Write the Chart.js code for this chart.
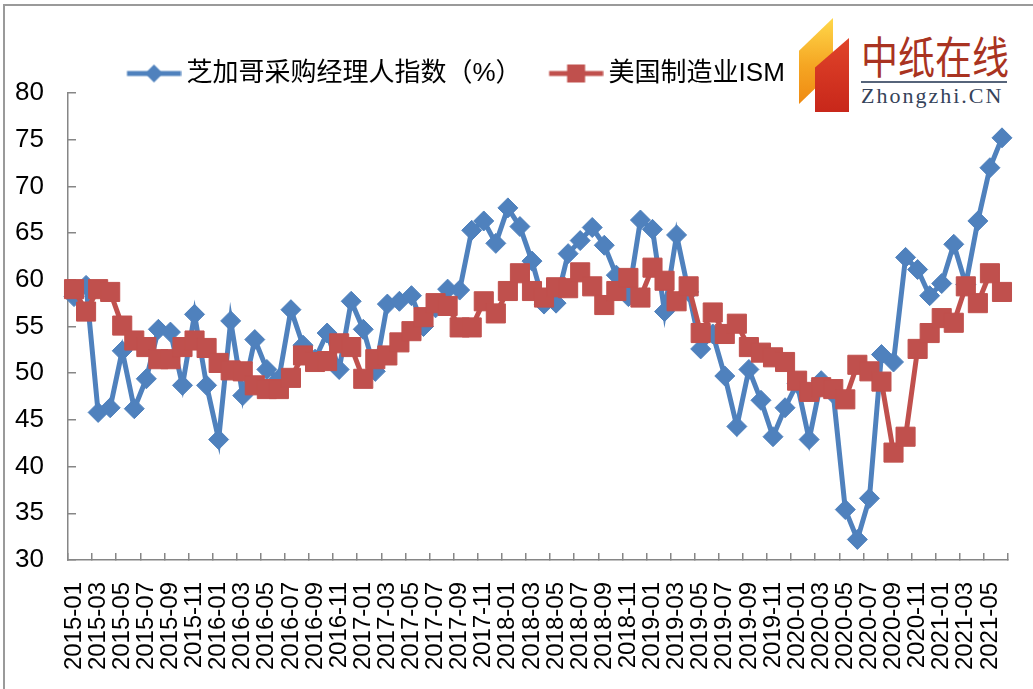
<!DOCTYPE html>
<html>
<head>
<meta charset="utf-8">
<title>芝加哥采购经理人指数与美国制造业ISM</title>
<script src="https://cdn.jsdelivr.net/npm/chart.js@4.4.1/dist/chart.umd.min.js"></script>
<style>
  html, body { margin: 0; padding: 0; background: #fff; overflow: hidden; }
  #wrap { position: relative; width: 1033px; height: 689px; overflow: hidden; }
  #frame { position: absolute; left: 3px; top: 4px; width: 1100px; height: 800px;
           border-top: 2px solid #9a9a9a; border-left: 2px solid #9a9a9a; }
  #myChart { position: absolute; left: 0; top: 0; }
  .logo { position: absolute; left: 793px; top: 12px; width: 220px; height: 100px; background: #fff; }
  .logo-orange { position: absolute; left: 6px; top: 6px; width: 34px; height: 86px;
                 background: linear-gradient(#ffd84a, #f5a623 55%, #ef8a12);
                 clip-path: polygon(0 38%, 100% 0, 100% 62%, 0 100%); }
  .logo-red { position: absolute; left: 22px; top: 26px; width: 34px; height: 74px;
              background: linear-gradient(#e0442a, #c8271a);
              clip-path: polygon(0 40%, 100% 0, 100% 100%, 0 100%); }
  .logo-cn { position: absolute; left: 68px; top: 10px; font: 37px "Noto Sans CJK SC", sans-serif;
             color: #a93321; transform: scaleY(1.2); transform-origin: top left; }
  .logo-line { position: absolute; left: 68px; top: 69px; width: 146px; height: 2px; background: #56647a; }
  .logo-en { position: absolute; left: 68px; top: 71px; font: 22px "Liberation Serif", serif;
             color: #35435a; letter-spacing: 2px; }
</style>
</head>
<body>
<div id="wrap">
  <div id="frame"></div>
  <canvas id="myChart" width="1033" height="689"></canvas>
  <div class="logo">
    <div class="logo-orange"></div>
    <div class="logo-red"></div>
    <div class="logo-cn">中纸在线</div>
    <div class="logo-line"></div>
    <div class="logo-en">Zhongzhi.CN</div>
  </div>
</div>
<script>
// monthly categories, 2015-01 .. 2021-06
const months = [
  '2015-01','2015-02','2015-03','2015-04','2015-05','2015-06','2015-07','2015-08','2015-09','2015-10','2015-11','2015-12',
  '2016-01','2016-02','2016-03','2016-04','2016-05','2016-06','2016-07','2016-08','2016-09','2016-10','2016-11','2016-12',
  '2017-01','2017-02','2017-03','2017-04','2017-05','2017-06','2017-07','2017-08','2017-09','2017-10','2017-11','2017-12',
  '2018-01','2018-02','2018-03','2018-04','2018-05','2018-06','2018-07','2018-08','2018-09','2018-10','2018-11','2018-12',
  '2019-01','2019-02','2019-03','2019-04','2019-05','2019-06','2019-07','2019-08','2019-09','2019-10','2019-11','2019-12',
  '2020-01','2020-02','2020-03','2020-04','2020-05','2020-06','2020-07','2020-08','2020-09','2020-10','2020-11','2020-12',
  '2021-01','2021-02','2021-03','2021-04','2021-05','2021-06'
];

// 芝加哥采购经理人指数（%）
const chicagoPmi = [
  58.2, 59.4, 45.8, 46.3, 52.4, 46.2, 49.4, 54.7, 54.4, 48.7, 56.3, 48.7,
  42.9, 55.6, 47.6, 53.6, 50.4, 49.4, 56.8, 53.0, 51.5, 54.3, 50.4, 57.7,
  54.7, 50.2, 57.4, 57.7, 58.3, 55.0, 57.0, 59.0, 58.9, 65.3, 66.3, 63.9,
  67.7, 65.7, 62.0, 57.4, 57.5, 62.8, 64.2, 65.6, 63.7, 60.5, 58.2, 66.4,
  65.4, 56.6, 64.8, 58.7, 52.6, 54.2, 49.7, 44.3, 50.4, 47.1, 43.2, 46.3,
  48.9, 42.9, 49.2, 47.8, 35.4, 32.2, 36.6, 52.0, 51.2, 62.4, 61.1, 58.3,
  59.6, 63.8, 59.5, 66.3, 72.0, 75.2
];

// 美国制造业ISM
const ismIndex = [
  59.0, 56.6, 59.0, 58.7, 55.1, 53.5, 52.8, 51.5, 51.5, 52.8, 53.5, 52.7,
  51.1, 50.3, 50.2, 48.7, 48.3, 48.3, 49.5, 51.9, 51.2, 51.3, 53.2, 52.8,
  49.4, 51.5, 51.9, 53.3, 54.5, 56.0, 57.5, 57.2, 54.9, 54.9, 57.7, 56.4,
  58.8, 60.7, 58.8, 58.1, 59.2, 59.1, 60.8, 59.3, 57.3, 58.8, 60.2, 58.1,
  61.3, 59.9, 57.7, 59.3, 54.3, 56.5, 54.2, 55.3, 52.8, 52.2, 51.7, 51.2,
  49.2, 48.0, 48.5, 48.3, 47.2, 50.9, 50.2, 49.1, 41.5, 43.2, 52.6, 54.3,
  55.9, 55.4, 59.3, 57.5, 60.7, 58.7
];

const seriesNames = ['芝加哥采购经理人指数（%）', '美国制造业ISM'];
const blue = '#4F81BD';
const red = '#C0504D';
const axisGrey = '#868686';

// legend sample: a short line with the marker on it
function makeLegendIcon(color, shape) {
  const c = document.createElement('canvas');
  c.width = 80;
  c.height = 24;
  const g = c.getContext('2d');
  g.strokeStyle = color;
  g.fillStyle = color;
  g.lineWidth = 5;
  g.beginPath();
  g.moveTo(25.5, 12);
  g.lineTo(79.5, 12);
  g.stroke();
  if (shape === 'diamond') {
    g.beginPath();
    g.moveTo(52.5, 3);
    g.lineTo(61.5, 12);
    g.lineTo(52.5, 21);
    g.lineTo(43.5, 12);
    g.closePath();
    g.fill();
  } else {
    g.fillRect(43.5, 3, 18, 18);
  }
  return c;
}
const legendIcons = [makeLegendIcon(blue, 'diamond'), makeLegendIcon(red, 'square')];

// put the legend row where the original has it
const legendPlacement = {
  id: 'legendPlacement',
  afterLayout(chart) {
    const legend = chart.legend;
    const dx = 99.5 - legend.left;
    const dy = 50.5 - legend.top;
    legend.left += dx;
    legend.right += dx;
    legend.top += dy;
    legend.bottom += dy;
  }
};

Chart.defaults.font.family = "'Liberation Sans', Arial, 'Noto Sans CJK SC', sans-serif";
Chart.defaults.color = '#000';

const data = {
  labels: months,
  datasets: [{
    label: seriesNames[0],
    data: chicagoPmi,
    borderColor: blue,
    backgroundColor: blue,
    borderWidth: 5,
    pointStyle: 'rectRot',
    pointRadius: 10,
    pointBorderWidth: 1,
    pointBackgroundColor: blue,
    pointBorderColor: blue,
    tension: 0,
    clip: false,
    order: 2
  }, {
    label: seriesNames[1],
    data: ismIndex,
    borderColor: red,
    backgroundColor: red,
    borderWidth: 5,
    pointStyle: 'rect',
    pointRadius: 13.5,
    pointBorderWidth: 1,
    pointBackgroundColor: red,
    pointBorderColor: red,
    tension: 0,
    clip: false,
    order: 1
  }]
};

const config = {
  type: 'line',
  data,
  options: {
    responsive: false,
    animation: false,
    events: [],
    layout: {
      padding: { left: 0, right: 25, top: 47, bottom: 0 }
    },
    plugins: {
      tooltip: { enabled: false },
      legend: {
        position: 'top',
        align: 'start',
        labels: {
          usePointStyle: true,
          pointStyleWidth: 64,
          padding: 10,
          color: '#000',
          font: { size: 26 },
          sort: (a, b) => a.datasetIndex - b.datasetIndex,
          generateLabels: chart => Chart.defaults.plugins.legend.labels.generateLabels(chart)
            .map(item => Object.assign(item, { pointStyle: legendIcons[item.datasetIndex] }))
        }
      }
    },
    scales: {
      x: {
        type: 'category',
        offset: true,
        grid: {
          offset: true,
          drawOnChartArea: false,
          drawTicks: true,
          tickLength: -7,
          lineWidth: 1.5,
          color: ctx => (ctx.index === undefined || ctx.index % 2 === 0) ? axisGrey : 'rgba(0,0,0,0)'
        },
        border: { color: axisGrey, width: 1.5 },
        ticks: {
          autoSkip: false,
          minRotation: 90,
          maxRotation: 90,
          padding: 29,
          font: { size: 24 },
          color: '#000',
          callback: function (value, index) {
            return index % 2 === 0 ? this.getLabelForValue(value) : '';
          }
        },
        afterFit: scale => {
          scale.height = 129;
          scale.paddingLeft = 0;
          scale.paddingRight = 0;
        }
      },
      y: {
        min: 30,
        max: 80,
        grid: {
          drawOnChartArea: false,
          drawTicks: true,
          tickLength: -8,
          lineWidth: 1.5,
          color: axisGrey
        },
        border: { color: axisGrey, width: 1.5 },
        ticks: {
          stepSize: 5,
          padding: 32,
          font: { size: 26 },
          color: '#000'
        },
        afterFit: scale => { scale.width = 68; }
      }
    }
  },
  plugins: [legendPlacement]
};

const myChart = new Chart(document.getElementById('myChart'), config);
</script>
</body>
</html>
